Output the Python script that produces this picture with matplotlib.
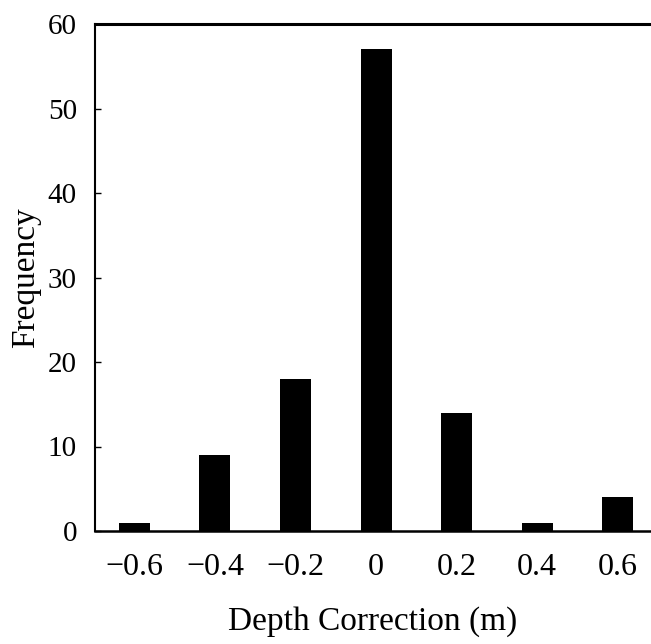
import matplotlib
matplotlib.use("Agg")
import matplotlib.pyplot as plt

bin_centers = [-0.6, -0.4, -0.2, 0.0, 0.2, 0.4, 0.6]
frequency = [1, 9, 18, 57, 14, 1, 4]
x_tick_labels = ["\u22120.6", "\u22120.4", "\u22120.2", "0", "0.2", "0.4", "0.6"]
y_ticks = [0, 10, 20, 30, 40, 50, 60]

plt.rcParams['font.family'] = ['Liberation Serif', 'DejaVu Serif']

fig = plt.figure(figsize=(6.51, 6.44), dpi=100)
ax = fig.add_axes([95/651, 1 - 531/644, 1 - 95/651, (531 - 24)/644])

ax.bar(bin_centers, frequency, width=0.077, color="black")
ax.set_xlim(-0.698, 0.683)
ax.set_ylim(0, 60)

ax.set_xticks(bin_centers)
ax.set_xticklabels(x_tick_labels)
ax.set_yticks(y_ticks)
ax.tick_params(axis='x', length=0, pad=16, labelsize=23)
ax.tick_params(axis='y', direction='in', length=4, width=1, pad=13, labelsize=21)

ax.spines['right'].set_visible(False)
ax.spines['top'].set_linewidth(2.2)
ax.spines['left'].set_linewidth(1.5)
ax.spines['bottom'].set_linewidth(1.8)

ax.set_xlabel("Depth Correction (m)", fontsize=24, labelpad=17)
ax.set_ylabel("Frequency", fontsize=24, labelpad=5)

fig.savefig("out.png", dpi=100)
